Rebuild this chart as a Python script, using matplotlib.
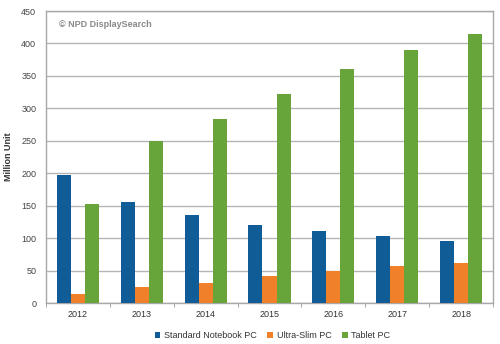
import numpy as np
import matplotlib
matplotlib.use("Agg")
import matplotlib.pyplot as plt

years = ["2012", "2013", "2014", "2015", "2016", "2017", "2018"]
standard_notebook = [197, 156, 135, 121, 111, 103, 96]
ultra_slim = [14, 25, 31, 41, 50, 57, 62]
tablet = [153, 249, 284, 322, 361, 390, 415]

series_names = ["Standard Notebook PC", "Ultra-Slim PC", "Tablet PC"]
colors = ["#0F5C96", "#F0802A", "#67A43A"]

plt.rcParams["font.family"] = ["Liberation Sans", "DejaVu Sans"]

fig = plt.figure(figsize=(5.0, 3.44), dpi=100)
ax = fig.add_axes([0.092, 0.119, 0.894, 0.849])

x = np.arange(len(years))
w = 0.22
for i, (vals, name, c) in enumerate(zip([standard_notebook, ultra_slim, tablet], series_names, colors)):
    ax.bar(x + (i - 1) * w, vals, width=w, color=c, label=name, zorder=3)

ax.set_xlim(-0.5, len(years) - 0.5)
ax.set_ylim(0, 450)
ax.set_yticks(range(0, 451, 50))
ax.yaxis.grid(True, color="#B5B5B5", linewidth=1.0, zorder=0)
ax.tick_params(axis="y", length=0, labelsize=6.5, colors="#444444", pad=7)

# category labels centred, tick marks on the boundaries
ax.set_xticks(x)
ax.set_xticklabels(years)
ax.set_xticks(np.arange(-0.5, len(years), 1), minor=True)
ax.tick_params(axis="x", which="major", length=0, labelsize=6.5, colors="#333333", pad=5)
ax.tick_params(axis="x", which="minor", length=3, color="#999999")

for s in ax.spines.values():
    s.set_color("#A8A8A8")
    s.set_linewidth(1.0)

fig.text(0.017, 0.545, "Million Unit", rotation=90, fontsize=6.5, fontweight="bold",
         color="#333333", ha="center", va="center")

ax.text(0.03, 0.955, "\u00a9 NPD DisplaySearch", transform=ax.transAxes,
        fontsize=6.5, fontweight="bold", color="#8A8A8A", va="center")

fig.legend(loc="center", bbox_to_anchor=(0.545, 0.025), ncol=3, frameon=False,
           fontsize=6.5, handlelength=0.6, handleheight=0.6, handletextpad=0.4,
           columnspacing=1.2, labelcolor="#333333")

fig.savefig("out.png", dpi=100)
